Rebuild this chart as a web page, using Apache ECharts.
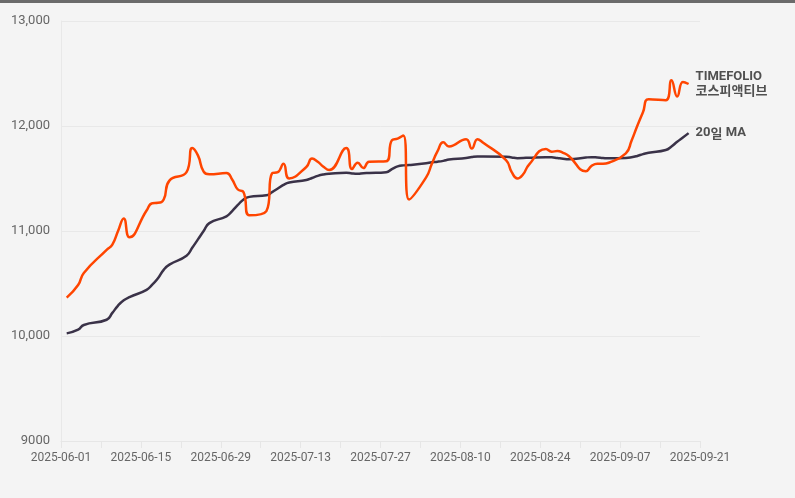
<!DOCTYPE html>
<html>
<head>
<meta charset="utf-8">
<script src="https://cdn.jsdelivr.net/npm/echarts@6/dist/echarts.min.js"></script>
<style>
  html, body { margin: 0; padding: 0; background: #f4f4f4; }
  #topbar { position: absolute; left: 0; top: 0; width: 795px; height: 3px; background: #6b6b6b; z-index: 2; }
  #chart { position: absolute; left: 0; top: 0; width: 795px; height: 498px; }
</style>
</head>
<body>
<div id="topbar"></div>
<div id="chart"></div>
<script>
const dates = [
  '2025-06-02','2025-06-04','2025-06-05','2025-06-09','2025-06-10','2025-06-11','2025-06-12','2025-06-13',
  '2025-06-16','2025-06-17','2025-06-18','2025-06-19','2025-06-20',
  '2025-06-23','2025-06-24','2025-06-25','2025-06-26','2025-06-27',
  '2025-06-30','2025-07-01','2025-07-02','2025-07-03','2025-07-04',
  '2025-07-07','2025-07-08','2025-07-09','2025-07-10','2025-07-11',
  '2025-07-14','2025-07-15','2025-07-16','2025-07-17','2025-07-18',
  '2025-07-21','2025-07-22','2025-07-23','2025-07-24','2025-07-25',
  '2025-07-28','2025-07-29','2025-07-30','2025-07-31','2025-08-01',
  '2025-08-04','2025-08-05','2025-08-06','2025-08-07','2025-08-08',
  '2025-08-11','2025-08-12','2025-08-13','2025-08-14',
  '2025-08-18','2025-08-19','2025-08-20','2025-08-21','2025-08-22',
  '2025-08-25','2025-08-26','2025-08-27','2025-08-28','2025-08-29',
  '2025-09-01','2025-09-02','2025-09-03','2025-09-04','2025-09-05',
  '2025-09-08','2025-09-09','2025-09-10','2025-09-11','2025-09-12',
  '2025-09-15','2025-09-16','2025-09-17','2025-09-18','2025-09-19'
];

const fundValues = [
  10365,10485,10600,10820,10870,11000,11120,10940,
  11195,11265,11268,11300,11480,
  11560,11790,11720,11565,11540,
  11552,11490,11395,11370,11150,
  11190,11550,11560,11640,11500,
  11610,11690,11660,11612,11581,
  11790,11590,11650,11600,11660,
  11665,11865,11880,11910,11300,
  11510,11640,11760,11845,11805,
  11875,11785,11875,11840,
  11676,11560,11500,11540,11630,
  11780,11755,11762,11745,11715,
  11570,11620,11640,11640,11650,
  11740,11860,12000,12130,12255,
  12245,12435,12280,12420,12400
];

const maValues = [
  10025,10060,10105,10155,10220,10290,10340,10370,
  10440,10490,10550,10630,10680,
  10765,10840,10920,11000,11075,
  11140,11190,11248,11300,11325,
  11340,11370,11405,11440,11462,
  11485,11505,11525,11538,11545,
  11555,11548,11545,11550,11552,
  11560,11590,11615,11625,11628,
  11645,11655,11660,11668,11680,
  11695,11705,11710,11710,
  11708,11700,11694,11695,11698,
  11703,11702,11695,11688,11684,
  11700,11703,11700,11695,11692,
  11695,11702,11715,11732,11745,
  11771,11805,11850,11890,11932
];

const fundName = 'TIMEFOLIO 코스피액티브';
const maName = '20일 MA';
const axisStart = '2025-06-01';
const axisEnd = '2025-09-21';
const yTickLabels = { 9000: '9000', 10000: '10,000', 11000: '11,000', 12000: '12,000', 13000: '13,000' };

const DAY = 86400000;
function toUTC(s) { const p = s.split('-').map(Number); return Date.UTC(p[0], p[1] - 1, p[2]); }
const base = toUTC(axisStart);
function dayIndex(s) { return Math.round((toUTC(s) - base) / DAY); }
function dayLabel(i) {
  const d = new Date(base + i * DAY);
  const mm = String(d.getUTCMonth() + 1).padStart(2, '0');
  const dd = String(d.getUTCDate()).padStart(2, '0');
  return d.getUTCFullYear() + '-' + mm + '-' + dd;
}

const fundData = dates.map((d, i) => [dayIndex(d), fundValues[i]]);
const maData = dates.map((d, i) => [dayIndex(d), maValues[i]]);

const font = 'Roboto, sans-serif';
const krFont = '"Noto Sans CJK KR", sans-serif';
const labelColor = '#505050';

const chart = echarts.init(document.getElementById('chart'), null, { renderer: 'canvas' });
chart.setOption({
  backgroundColor: '#f4f4f4',
  animation: false,
  grid: { left: 61, right: 95, top: 21, bottom: 57, containLabel: false },
  xAxis: {
    type: 'value',
    min: 0,
    max: dayIndex(axisEnd),
    interval: 7,
    axisLine: { show: true, lineStyle: { color: '#e6e6e6', width: 1 } },
    axisTick: { show: true, length: 7, lineStyle: { color: '#e6e6e6' } },
    splitLine: { show: false },
    axisLabel: {
      color: '#666666',
      fontFamily: font,
      fontSize: 12,
      margin: 11,
      formatter: v => (v % 14 === 0 ? dayLabel(v) : '')
    }
  },
  yAxis: {
    type: 'value',
    min: 9000,
    max: 13000,
    interval: 1000,
    axisLine: { show: true, lineStyle: { color: '#e8e8e8', width: 1 } },
    axisTick: { show: false },
    splitLine: { show: true, lineStyle: { color: '#e8e8e8', width: 1 } },
    axisLabel: {
      color: '#666666',
      fontFamily: font,
      fontSize: 13,
      margin: 11,
      formatter: v => yTickLabels[v] !== undefined ? yTickLabels[v] : String(v)
    }
  },
  series: [
    {
      name: fundName,
      type: 'line',
      data: fundData,
      smooth: true,
      showSymbol: false,
      symbol: 'none',
      lineStyle: { color: '#ff4500', width: 2.5 },
      itemStyle: { color: '#ff4500' },
      endLabel: {
        show: true,
        distance: 7,
        formatter: () => '{a|TIMEFOLIO}\n{b|코스피액티브}',
        rich: {
          a: { fontFamily: font, fontWeight: 'bold', fontSize: 13, color: labelColor, lineHeight: 13 },
          b: { fontFamily: krFont, fontWeight: 'bold', fontSize: 13, color: labelColor, lineHeight: 14 }
        }
      },
      z: 3
    },
    {
      name: maName,
      type: 'line',
      data: maData,
      smooth: true,
      showSymbol: false,
      symbol: 'none',
      lineStyle: { color: '#3a3248', width: 2.5 },
      itemStyle: { color: '#3a3248' },
      endLabel: {
        show: true,
        distance: 7,
        formatter: () => '{a|20}{b|일}{a| MA}',
        rich: {
          a: { fontFamily: font, fontWeight: 'bold', fontSize: 13, color: labelColor },
          b: { fontFamily: krFont, fontWeight: 'bold', fontSize: 13, color: labelColor }
        }
      },
      z: 2
    }
  ]
});
</script>
</body>
</html>
